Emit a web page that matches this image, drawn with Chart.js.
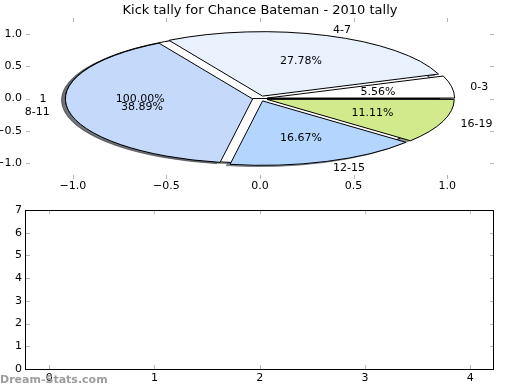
<!DOCTYPE html>
<html>
<head>
<meta charset="utf-8">
<title>Kick tally for Chance Bateman - 2010 tally</title>
<script src="https://cdn.jsdelivr.net/npm/chart.js@4.4.1/dist/chart.umd.min.js"></script>
<style>
  html, body { margin: 0; padding: 0; background: #fff; }
  #fig { position: relative; width: 520px; height: 390px; overflow: hidden; }
  #fig canvas { position: absolute; left: 0; }
  .upper { top: 0; }
  #lowerAxes { top: 195px; }
  #mark { position: absolute; left: 0; top: 373px; font: bold 11px "DejaVu Sans", sans-serif; color: #9d9d9d; }
</style>
</head>
<body>
<div id="fig">
  <canvas id="pieAxes" class="upper" width="520" height="195"></canvas>
  <canvas id="strayShadow" class="upper" width="520" height="195"></canvas>
  <canvas id="kickShadow" class="upper" width="520" height="195"></canvas>
  <canvas id="strayPie" class="upper" width="520" height="195"></canvas>
  <canvas id="kickPie" class="upper" width="520" height="195"></canvas>
  <canvas id="lowerAxes" width="520" height="195"></canvas>
  <div id="mark">Dream-Stats.com</div>
</div>
<script>
const brackets = ['0-3', '4-7', '8-11', '12-15', '16-19'];
const kicks = [1, 5, 7, 3, 2];
const sliceColors = ['#ffffff', '#e9f1fd', '#c5d9fa', '#b4d5fe', '#d0ea8c'];
// leftover one-slice pie that sits under the real one
const strayLabels = ['1'];
const strayValues = [1];
const pieTicks = [-1.0, -0.5, 0.0, 0.5, 1.0];
const lowerTicksX = [0, 1, 2, 3, 4];
const lowerTicksY = [0, 1, 2, 3, 4, 5, 6, 7];

const EXPLODE = 0.04;   // in pie radii
const SHADOW = 0.02;    // shadow offset, in pie radii
const W = 520, H = 195;

Chart.defaults.font.family = '"DejaVu Sans", sans-serif';
Chart.defaults.font.size = 11;
Chart.defaults.color = '#000';

const fmt1 = v => v.toFixed(1).replace('-', '\u2212');

// small grey tick marks pointing into the axes, on all four sides
const innerTicks = {
  id: 'innerTicks',
  afterDraw(chart, args, opts) {
    const { ctx, chartArea: a } = chart;
    const xs = chart.scales.x, ys = chart.scales.y;
    ctx.save();
    ctx.strokeStyle = '#b4b4b4';
    ctx.lineWidth = 1;
    ctx.beginPath();
    xs.ticks.forEach(t => {
      const px = Math.round(xs.getPixelForValue(t.value)) + 0.5;
      ctx.moveTo(px, a.top); ctx.lineTo(px, a.top + 4);
      ctx.moveTo(px, a.bottom); ctx.lineTo(px, a.bottom - 4);
    });
    ys.ticks.forEach(t => {
      const py = Math.round(ys.getPixelForValue(t.value)) + 0.5;
      ctx.moveTo(a.left, py); ctx.lineTo(a.left + 4, py);
      ctx.moveTo(a.right, py); ctx.lineTo(a.right - 4, py);
    });
    ctx.stroke();
    if (opts.frame) {
      ctx.strokeStyle = '#000';
      ctx.strokeRect(Math.round(a.left) - 0.5, Math.round(a.top) + 0.5,
        Math.round(a.right - a.left), Math.round(a.bottom - a.top));
    }
    ctx.restore();
  }
};

function axis(pos, min, max, values, fmt, size, pad) {
  return {
    type: 'linear', position: pos, min: min, max: max,
    afterBuildTicks: s => { s.ticks = values.map(v => ({ value: v })); },
    afterFit: s => { if (pos === 'bottom') s.height = size; else s.width = size; },
    grid: { display: false, drawTicks: false },
    border: { display: false },
    ticks: { callback: fmt, padding: pad, maxRotation: 0, autoSkip: false }
  };
}

// empty right-hand axis, only there to keep the same margin as the left one
function spacer(min, max) {
  return {
    type: 'linear', position: 'right', min: min, max: max,
    afterFit: s => { s.width = 26; },
    grid: { display: false, drawTicks: false },
    border: { display: false },
    ticks: { display: false }
  };
}

const pieAxes = new Chart(document.getElementById('pieAxes'), {
  type: 'scatter',
  data: { datasets: [] },
  options: {
    responsive: false, animation: false, events: [], devicePixelRatio: 1,
    scales: {
      x: axis('bottom', -1.25, 1.25, pieTicks, fmt1, 16, 1),
      y: axis('left', -1.25, 1.25, pieTicks, fmt1, 26, 4),
      yRight: spacer(-1.25, 1.25)
    },
    plugins: {
      legend: { display: false },
      tooltip: { enabled: false },
      title: {
        display: true,
        text: 'Kick tally for Chance Bateman - 2010 tally',
        font: { size: 13, weight: 'normal', lineHeight: 1.2 },
        padding: { top: 2.4, bottom: 0 }
      },
      innerTicks: { frame: false }
    }
  },
  plugins: [innerTicks]
});

// the pie lives in the data space of the axes above: radius 1 on both scales
const xs = pieAxes.scales.x, ys = pieAxes.scales.y;
const cx = xs.getPixelForValue(0), cy = ys.getPixelForValue(0);
const rx = xs.getPixelForValue(1) - cx;
const ry = cy - ys.getPixelForValue(1);
const squash = ry / rx;
const toScreen = (px, py) => ({ x: px, y: cy - squash * (py - cy) });

function ellipsePlugin(dx, dy) {
  return {
    id: 'ellipse',
    afterDatasetUpdate(chart, args) {
      // explode every wedge outwards along its middle angle
      args.meta.data.forEach(arc => {
        const mid = (arc.startAngle + arc.endAngle) / 2;
        arc.x += EXPLODE * rx * Math.cos(mid);
        arc.y += EXPLODE * rx * Math.sin(mid);
      });
    },
    beforeDatasetsDraw(chart) {
      const ctx = chart.ctx;
      ctx.save();
      ctx.translate(cx + dx, cy + dy);
      ctx.scale(1, -squash);
      ctx.translate(-cx, -cy);
      // stroke in screen pixels so the edge stays 1px all round
      ctx.stroke = function () {
        this.save();
        this.setTransform(1, 0, 0, 1, 0, 0);
        CanvasRenderingContext2D.prototype.stroke.call(this);
        this.restore();
      };
    },
    afterDatasetsDraw(chart) {
      delete chart.ctx.stroke;
      chart.ctx.restore();
    }
  };
}

function makePie(id, values, fill, edge, shift, extra) {
  return new Chart(document.getElementById(id), {
    type: 'pie',
    data: {
      datasets: [{
        data: values,
        backgroundColor: fill,
        borderColor: edge,
        borderWidth: 1,
        borderJoinStyle: 'miter',
        clip: false
      }]
    },
    options: {
      responsive: false, animation: false, events: [], devicePixelRatio: 1,
      radius: rx,
      rotation: 90,
      layout: {
        padding: {
          top: Math.max(2 * cy - H, 0), bottom: Math.max(H - 2 * cy, 0),
          left: Math.max(2 * cx - W, 0), right: Math.max(W - 2 * cx, 0)
        }
      },
      plugins: { legend: { display: false }, tooltip: { enabled: false } }
    },
    plugins: [ellipsePlugin(shift[0], shift[1])].concat(extra || [])
  });
}

const shade = c => {
  const n = parseInt(c.slice(1), 16);
  return 'rgba(' + [(n >> 16) & 255, (n >> 8) & 255, n & 255].map(v => Math.round(v * 0.3)).join(',') + ',0.5)';
};

const shadowShift = [-SHADOW * rx, SHADOW * ry];
const strayFill = sliceColors.slice(0, strayValues.length);
makePie('strayShadow', strayValues, strayFill.map(shade), strayFill.map(shade), shadowShift);
makePie('kickShadow', kicks, sliceColors.map(shade), sliceColors.map(shade), shadowShift);
const strayPie = makePie('strayPie', strayValues, strayFill, '#000', [0, 0]);

function wedgeTexts(ctx, chart, names, vals) {
  const total = vals.reduce((s, v) => s + v, 0);
  chart.getDatasetMeta(0).data.forEach((arc, i) => {
    const mid = (arc.startAngle + arc.endAngle) / 2;
    const c = Math.cos(mid), s = Math.sin(mid);
    const lab = toScreen(arc.x + 1.1 * rx * c, arc.y + 1.1 * rx * s);
    ctx.textAlign = lab.x > cx ? 'left' : 'right';
    ctx.fillText(names[i], lab.x, lab.y + 1);
    const pct = toScreen(arc.x + 0.6 * rx * c, arc.y + 0.6 * rx * s);
    ctx.textAlign = 'center';
    ctx.fillText((100 * vals[i] / total).toFixed(2) + '%', pct.x, pct.y + 1);
  });
}

const pieText = {
  id: 'pieText',
  afterDraw(chart) {
    const ctx = chart.ctx;
    ctx.save();
    ctx.font = '11px "DejaVu Sans", sans-serif';
    ctx.fillStyle = '#000';
    ctx.textBaseline = 'middle';
    wedgeTexts(ctx, strayPie, strayLabels, strayValues);
    wedgeTexts(ctx, chart, brackets, kicks);
    ctx.restore();
  }
};

makePie('kickPie', kicks, sliceColors, '#000', [0, 0], [pieText]);

new Chart(document.getElementById('lowerAxes'), {
  type: 'scatter',
  data: { datasets: [] },
  options: {
    responsive: false, animation: false, events: [], devicePixelRatio: 1,
    layout: { padding: { top: 15 } },
    scales: {
      x: axis('bottom', -0.22, 4.225, lowerTicksX, v => String(v), 21, 3),
      y: axis('left', 0, 7, lowerTicksY, v => String(v), 26, 4),
      yRight: spacer(0, 7)
    },
    plugins: {
      legend: { display: false },
      tooltip: { enabled: false },
      innerTicks: { frame: true }
    }
  },
  plugins: [innerTicks]
});
</script>
</body>
</html>
